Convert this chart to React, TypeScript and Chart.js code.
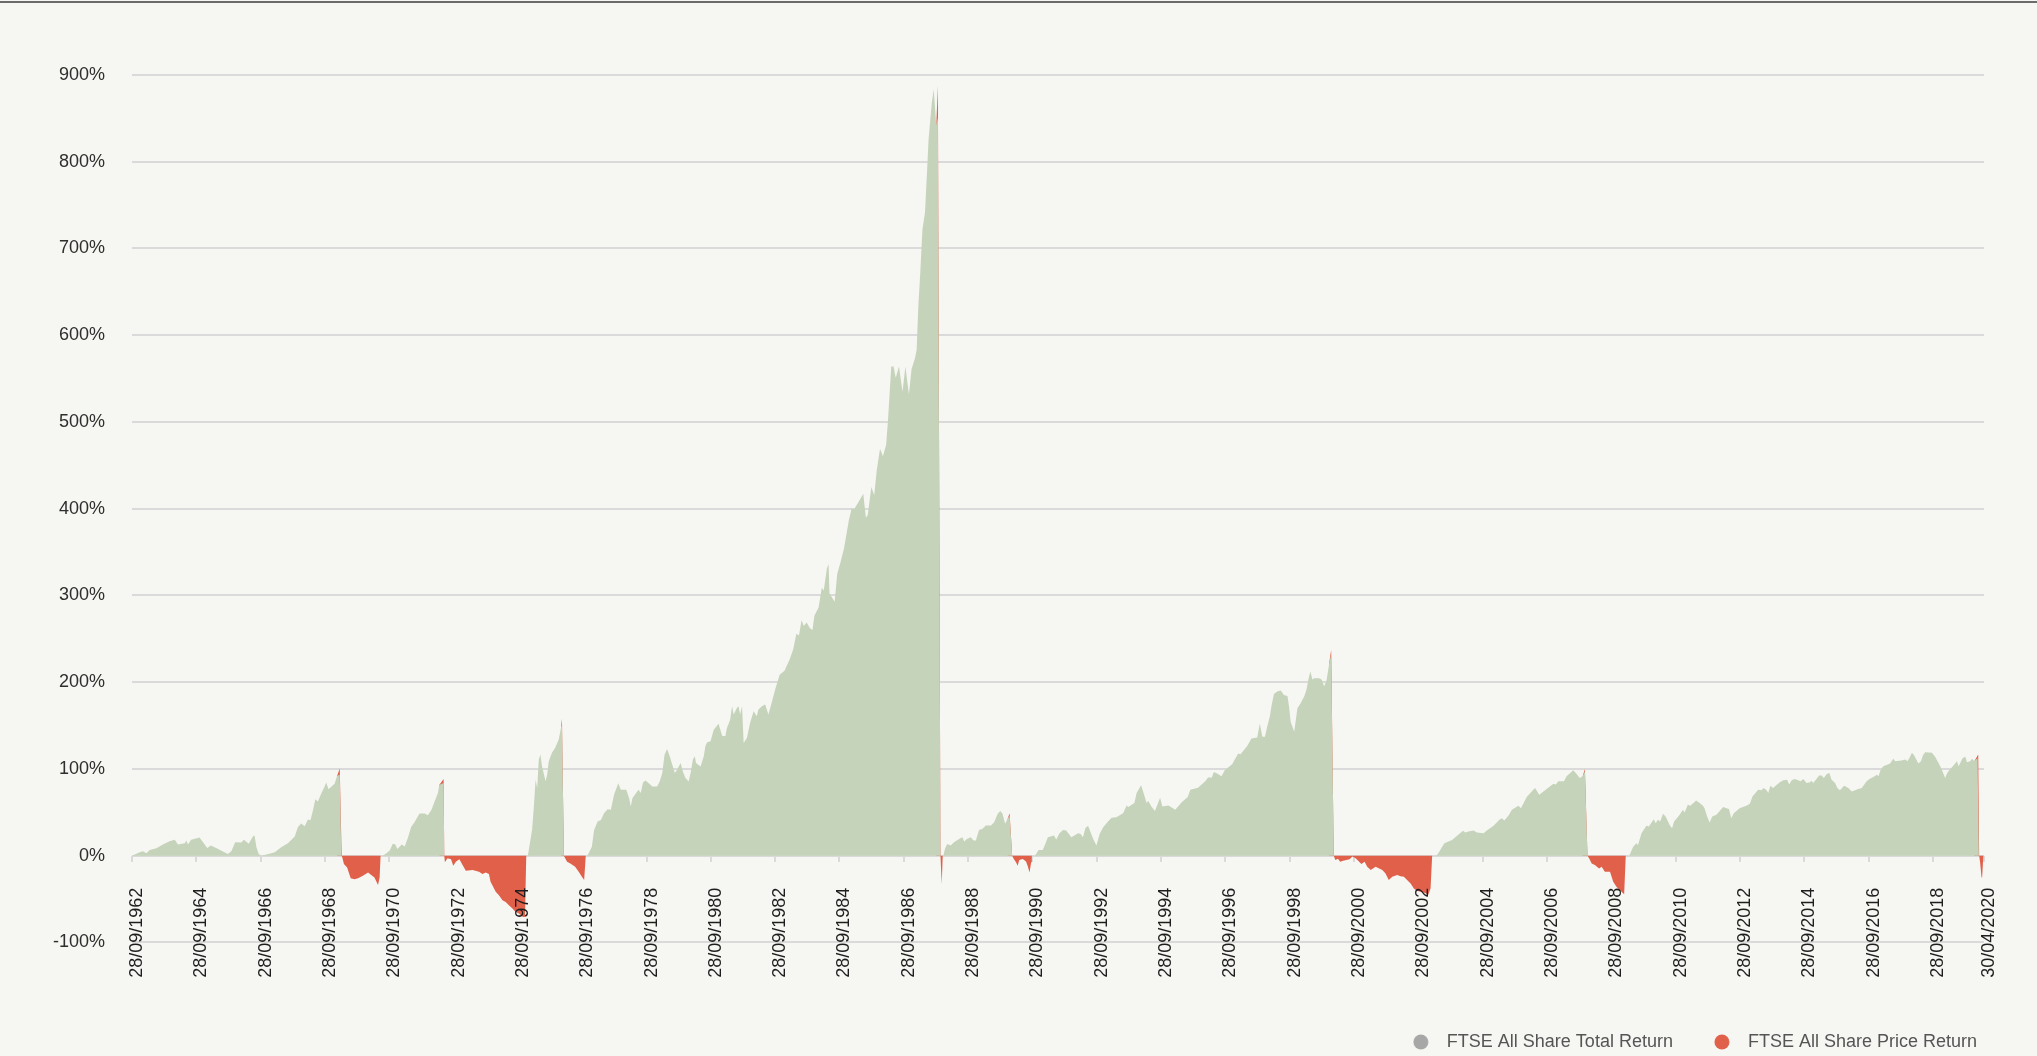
import React, { useEffect, useRef } from 'react';
import { Chart, registerables } from 'chart.js';

Chart.register(...registerables);

// ---- tick labels (x axis) ----
const tickYears = [
  1962.74, 1964.74, 1966.74, 1968.74, 1970.74, 1972.74, 1974.74, 1976.74, 1978.74, 1980.74,
  1982.74, 1984.74, 1986.74, 1988.74, 1990.74, 1992.74, 1994.74, 1996.74, 1998.74, 2000.74,
  2002.74, 2004.74, 2006.74, 2008.74, 2010.74, 2012.74, 2014.74, 2016.74, 2018.74, 2020.33,
];
const tickLabels = [
  '28/09/1962', '28/09/1964', '28/09/1966', '28/09/1968', '28/09/1970', '28/09/1972',
  '28/09/1974', '28/09/1976', '28/09/1978', '28/09/1980', '28/09/1982', '28/09/1984',
  '28/09/1986', '28/09/1988', '28/09/1990', '28/09/1992', '28/09/1994', '28/09/1996',
  '28/09/1998', '28/09/2000', '28/09/2002', '28/09/2004', '28/09/2006', '28/09/2008',
  '28/09/2010', '28/09/2012', '28/09/2014', '28/09/2016', '28/09/2018', '30/04/2020',
];

// ---- FTSE All Share Total Return: bull markets [year, % return] ----
const bull1962 = [
  [1962.74, 0], [1962.98, 3.9], [1963.08, 5.1], [1963.19, 2.7], [1963.29, 6.6], [1963.5, 8.6],
  [1963.7, 12.8], [1963.91, 16.7], [1964.07, 18.3], [1964.17, 12.8], [1964.38, 14.4], [1964.43, 17.5],
  [1964.48, 12.8], [1964.58, 18.3], [1964.84, 21.0], [1965.0, 12.8], [1965.08, 8.9], [1965.19, 11.7],
  [1965.39, 8.2], [1965.55, 5.1], [1965.72, 1.9], [1965.83, 5.1], [1965.95, 15.6], [1966.14, 15.2],
  [1966.22, 18.3], [1966.37, 13.6], [1966.5, 22.2], [1966.55, 23.3], [1966.61, 9.7], [1966.68, 1.9],
  [1966.76, 0], [1966.92, 1.2], [1967.07, 2.7], [1967.18, 3.9], [1967.38, 9.7], [1967.59, 14.4],
  [1967.8, 22.2], [1967.9, 33.1], [1968.0, 37.0], [1968.11, 33.9], [1968.21, 41.6], [1968.29, 40.9],
  [1968.37, 52.5], [1968.44, 65.0], [1968.52, 62.3], [1968.63, 72.0], [1968.73, 79.8], [1968.78, 84.4],
  [1968.85, 76.7], [1969.04, 82.9], [1969.12, 92.2], [1969.2, 93.4], [1969.25, 0],
];
const bull1970 = [
  [1970.54, 0], [1970.65, 2.7], [1970.75, 5.8], [1970.85, 13.6], [1970.93, 12.8], [1970.99, 7.8],
  [1971.13, 12.8], [1971.22, 10.5], [1971.32, 20.6], [1971.42, 33.1], [1971.53, 38.9], [1971.68, 48.6],
  [1971.84, 48.6], [1971.94, 46.7], [1972.05, 52.5], [1972.15, 62.3], [1972.25, 72.0], [1972.3, 81.7],
  [1972.43, 83.7], [1972.45, 0],
];
const bull1975 = [
  [1975.05, 0], [1975.18, 29.7], [1975.23, 52.9], [1975.29, 87.6], [1975.34, 78.0], [1975.39, 110.8],
  [1975.44, 116.6], [1975.49, 103.1], [1975.6, 85.7], [1975.65, 93.4], [1975.7, 108.9], [1975.8, 118.5],
  [1975.9, 124.3], [1976.01, 134.0], [1976.08, 147.5], [1976.11, 151.4], [1976.17, 0],
];
const bull1976 = [
  [1976.9, 0], [1977.04, 10.4], [1977.11, 29.7], [1977.22, 39.3], [1977.32, 41.2], [1977.42, 48.9],
  [1977.53, 53.6], [1977.63, 52.8], [1977.73, 70.1], [1977.86, 83.6], [1977.94, 75.9], [1978.11, 75.9],
  [1978.2, 66.3], [1978.25, 56.6], [1978.3, 66.3], [1978.49, 75.9], [1978.56, 72.1], [1978.63, 84.4],
  [1978.71, 86.7], [1978.92, 79.8], [1979.07, 79.8], [1979.15, 85.5], [1979.23, 95.2], [1979.3, 116.4],
  [1979.38, 122.9], [1979.46, 114.5], [1979.62, 95.2], [1979.69, 99.0], [1979.8, 106.7], [1979.87, 97.1],
  [1979.95, 89.4], [1980.05, 85.5], [1980.11, 95.2], [1980.18, 110.6], [1980.24, 114.5], [1980.28, 106.7],
  [1980.42, 102.9], [1980.52, 114.5], [1980.57, 126.0], [1980.62, 130.6], [1980.73, 131.8], [1980.83, 145.3],
  [1980.98, 152.2], [1981.09, 138.3], [1981.19, 137.6], [1981.24, 147.2], [1981.34, 156.8], [1981.4, 172.3],
  [1981.45, 162.6], [1981.55, 170.3], [1981.6, 172.3], [1981.65, 162.6], [1981.71, 172.3], [1981.76, 129.9],
  [1981.86, 135.6], [1981.96, 153.0], [1982.07, 166.5], [1982.17, 160.7], [1982.22, 168.4], [1982.33, 172.3],
  [1982.43, 174.2], [1982.53, 162.6], [1982.63, 176.1], [1982.74, 191.5], [1982.88, 208.7], [1983.03, 213.2],
  [1983.19, 226.1], [1983.3, 237.7], [1983.4, 255.8], [1983.48, 253.9], [1983.56, 271.3], [1983.63, 264.9],
  [1983.72, 268.7], [1983.82, 262.3], [1983.9, 260.3], [1983.96, 276.5], [1984.09, 286.2], [1984.19, 308.8],
  [1984.25, 305.6], [1984.35, 331.4], [1984.4, 335.9], [1984.43, 302.3], [1984.59, 292.6], [1984.67, 324.9],
  [1984.77, 337.9], [1984.88, 354.0], [1985.03, 386.3], [1985.12, 400.5], [1985.19, 399.2], [1985.35, 408.9],
  [1985.48, 417.3], [1985.56, 389.5], [1985.62, 392.8], [1985.73, 425.1], [1985.82, 415.4], [1985.9, 444.4],
  [1986.0, 469.0], [1986.09, 460.6], [1986.19, 473.5], [1986.25, 502.6], [1986.35, 564.0], [1986.42, 564.0],
  [1986.49, 551.0], [1986.59, 564.0], [1986.7, 534.9], [1986.79, 564.0], [1986.9, 531.7], [1986.98, 560.7],
  [1987.09, 573.6], [1987.14, 583.3], [1987.19, 631.8], [1987.25, 670.5], [1987.32, 722.2], [1987.4, 741.6],
  [1987.46, 786.8], [1987.51, 825.6], [1987.61, 867.6], [1987.67, 883.7], [1987.75, 841.7], [1987.8, 851.0],
  [1987.88, 0],
];
const bull1988 = [
  [1987.97, 0], [1988.02, 8.0], [1988.09, 13.5], [1988.2, 11.6], [1988.3, 15.4], [1988.46, 19.3],
  [1988.56, 21.2], [1988.62, 16.2], [1988.7, 19.3], [1988.82, 21.2], [1988.91, 17.4], [1988.98, 17.4],
  [1989.08, 29.7], [1989.19, 30.9], [1989.29, 34.7], [1989.45, 34.7], [1989.55, 38.6], [1989.66, 48.3],
  [1989.74, 51.4], [1989.81, 48.3], [1989.89, 36.7], [1989.97, 42.5], [1990.03, 46.0], [1990.11, 0],
];
const bull1990 = [
  [1990.82, 0], [1990.93, 6.6], [1991.06, 6.6], [1991.14, 13.5], [1991.22, 21.2], [1991.41, 23.2],
  [1991.48, 18.5], [1991.58, 25.9], [1991.69, 29.7], [1991.79, 29.0], [1991.95, 21.2], [1992.16, 25.9],
  [1992.24, 25.1], [1992.31, 21.2], [1992.39, 32.0], [1992.47, 34.4], [1992.63, 19.3], [1992.73, 11.6],
  [1992.83, 25.1], [1992.94, 32.8], [1993.07, 38.6], [1993.2, 43.6], [1993.35, 44.4], [1993.56, 49.0],
  [1993.67, 57.9], [1993.72, 56.0], [1993.91, 60.6], [1993.98, 72.2], [1994.12, 81.1], [1994.22, 69.5],
  [1994.29, 60.6], [1994.34, 62.9], [1994.45, 56.0], [1994.55, 51.4], [1994.71, 66.8], [1994.78, 56.8],
  [1994.97, 57.9], [1995.18, 52.9], [1995.39, 61.8], [1995.57, 67.6], [1995.65, 76.1], [1995.89, 78.4],
  [1996.12, 86.1], [1996.2, 90.0], [1996.32, 90.0], [1996.38, 96.5], [1996.48, 94.6], [1996.62, 91.5],
  [1996.72, 98.5], [1996.95, 105.4], [1997.05, 112.0], [1997.14, 117.8], [1997.21, 117.0], [1997.42, 126.3],
  [1997.55, 135.1], [1997.73, 136.3], [1997.81, 152.5], [1997.89, 137.1], [1997.97, 137.1], [1998.04, 148.6],
  [1998.12, 160.2], [1998.18, 173.7], [1998.25, 186.5], [1998.35, 189.2], [1998.46, 190.3], [1998.56, 185.3],
  [1998.67, 184.2], [1998.72, 171.8], [1998.77, 154.4], [1998.88, 142.9], [1998.93, 156.4], [1998.98, 169.9],
  [1999.08, 175.7], [1999.19, 183.4], [1999.26, 191.1], [1999.32, 202.7], [1999.38, 212.4], [1999.45, 202.7],
  [1999.5, 204.6], [1999.66, 204.6], [1999.74, 202.7], [1999.81, 195.0], [1999.89, 202.7], [1999.97, 222.0],
  [2000.03, 231.7], [2000.11, 0],
];
const bull2003 = [
  [2003.3, 0], [2003.4, 5.0], [2003.48, 10.4], [2003.55, 14.3], [2003.79, 18.1], [2004.01, 25.1],
  [2004.13, 28.6], [2004.2, 26.6], [2004.3, 27.8], [2004.46, 29.0], [2004.56, 26.6], [2004.77, 25.9],
  [2004.87, 29.0], [2005.08, 34.4], [2005.26, 41.3], [2005.34, 43.2], [2005.41, 40.5], [2005.54, 45.9],
  [2005.65, 52.9], [2005.85, 57.5], [2005.93, 54.8], [2006.11, 67.6], [2006.3, 75.3], [2006.37, 78.0],
  [2006.5, 70.3], [2006.73, 76.8], [2006.94, 83.0], [2007.02, 81.9], [2007.09, 85.7], [2007.27, 85.7],
  [2007.35, 91.5], [2007.56, 98.5], [2007.68, 93.4], [2007.76, 89.6], [2007.85, 91.5], [2007.92, 97.3],
  [2008.0, 0],
];
const bull2009 = [
  [2009.3, 0], [2009.42, 10.4], [2009.52, 14.3], [2009.57, 12.4], [2009.68, 25.9], [2009.83, 34.4],
  [2009.91, 33.6], [2010.06, 42.1], [2010.12, 37.5], [2010.19, 41.3], [2010.26, 39.4], [2010.35, 48.3],
  [2010.43, 45.2], [2010.55, 35.5], [2010.63, 31.7], [2010.69, 39.0], [2010.86, 47.0], [2010.97, 52.9],
  [2011.02, 49.8], [2011.12, 58.7], [2011.2, 57.5], [2011.38, 63.7], [2011.49, 60.6], [2011.59, 57.5],
  [2011.64, 54.8], [2011.72, 45.2], [2011.8, 38.2], [2011.88, 45.2], [2012.01, 47.1], [2012.22, 56.0],
  [2012.32, 54.8], [2012.4, 53.7], [2012.47, 43.2], [2012.55, 49.0], [2012.73, 54.8], [2012.94, 57.5],
  [2013.05, 59.8], [2013.13, 68.3], [2013.31, 76.1], [2013.41, 75.3], [2013.48, 78.0], [2013.57, 75.3],
  [2013.62, 72.2], [2013.69, 80.7], [2013.77, 78.0], [2013.98, 84.6], [2014.09, 86.9], [2014.21, 87.6],
  [2014.27, 81.9], [2014.35, 86.9], [2014.45, 88.4], [2014.63, 85.7], [2014.71, 88.4], [2014.81, 83.8],
  [2014.92, 84.6], [2014.97, 86.5], [2015.02, 83.8], [2015.12, 88.4], [2015.2, 92.3], [2015.28, 92.3],
  [2015.35, 89.6], [2015.44, 94.2], [2015.52, 95.4], [2015.59, 87.6], [2015.7, 83.8], [2015.77, 78.0],
  [2015.85, 75.3], [2015.98, 80.7], [2016.11, 78.0], [2016.22, 74.1], [2016.42, 76.8], [2016.53, 78.0],
  [2016.68, 85.7], [2016.77, 88.4], [2016.89, 90.7], [2017.0, 93.4], [2017.05, 91.5], [2017.12, 99.2],
  [2017.2, 103.1], [2017.41, 106.2], [2017.51, 111.6], [2017.57, 108.9], [2017.77, 109.7], [2017.88, 110.8],
  [2017.95, 108.9], [2018.01, 112.7], [2018.09, 118.5], [2018.16, 115.4], [2018.29, 106.2], [2018.37, 108.9],
  [2018.43, 115.4], [2018.5, 119.3], [2018.71, 118.5], [2018.81, 113.9], [2018.97, 103.1], [2019.05, 96.1],
  [2019.12, 89.6], [2019.2, 96.1], [2019.36, 103.1], [2019.49, 108.9], [2019.54, 103.1], [2019.67, 112.7],
  [2019.75, 113.9], [2019.8, 107.7], [2019.9, 108.9], [2019.96, 111.6], [2020.03, 108.9], [2020.13, 112.7],
  [2020.17, 0], [2020.33, 0],
];

// ---- FTSE All Share Price Return: peak tips and bear markets [year, % return] ----
const bear1969 = [
  [1962.74, 0], [1969.12, 0], [1969.12, 92.2], [1969.2, 100.4], [1969.26, 0], [1969.28, -2.0],
  [1969.33, -9.7], [1969.43, -13.6], [1969.54, -26.0], [1969.66, -27.2], [1969.77, -26.0], [1969.92, -23.3],
  [1970.08, -19.5], [1970.18, -22.2], [1970.28, -25.3], [1970.39, -33.9], [1970.44, -25.3], [1970.47, 0],
];
const bear1972 = [
  [1972.3, 0], [1972.3, 81.7], [1972.43, 88.3], [1972.45, 0], [1972.47, -7.7], [1972.55, -3.1],
  [1972.66, -4.2], [1972.73, -11.6], [1972.81, -6.9], [1972.92, -4.2], [1973.02, -10.8], [1973.12, -17.4],
  [1973.33, -16.6], [1973.53, -18.5], [1973.64, -21.2], [1973.74, -19.3], [1973.84, -21.2], [1973.89, -30.1],
  [1974.05, -41.7], [1974.15, -45.6], [1974.26, -51.4], [1974.36, -53.3], [1974.46, -57.1], [1974.57, -61.0],
  [1974.67, -64.9], [1974.77, -66.8], [1974.9, -70.7], [1974.96, -70.7], [1975.0, 0],
];
const bear1976 = [
  [1976.08, 0], [1976.08, 147.5], [1976.11, 157.9], [1976.17, 0], [1976.21, -3.0], [1976.27, -7.0],
  [1976.37, -8.9], [1976.52, -12.7], [1976.63, -18.5], [1976.73, -24.3], [1976.8, -28.2], [1976.85, 0],
];
const bear1987 = [
  [1987.75, 0], [1987.75, 841.7], [1987.8, 888.0], [1987.88, 0], [1987.92, -33.0], [1987.95, 0],
];
const bear1990 = [
  [1989.97, 0], [1989.97, 42.5], [1990.03, 49.0], [1990.11, 0], [1990.16, -3.9], [1990.23, -7.7],
  [1990.28, -11.6], [1990.33, -5.0], [1990.44, -3.9], [1990.54, -6.6], [1990.59, -11.6], [1990.65, -19.3],
  [1990.7, -7.7], [1990.72, 0],
];
const bear2000 = [
  [1999.97, 0], [1999.97, 222.0], [2000.03, 237.5], [2000.11, 0], [2000.16, -5.0], [2000.24, -3.5],
  [2000.31, -7.0], [2000.4, -6.0], [2000.5, -5.0], [2000.6, -4.0], [2000.69, -1.0], [2000.79, -3.1],
  [2000.97, -9.7], [2001.07, -6.9], [2001.15, -12.7], [2001.26, -16.6], [2001.41, -12.7], [2001.62, -16.6],
  [2001.72, -20.5], [2001.82, -28.2], [2001.93, -24.3], [2002.08, -22.4], [2002.19, -23.6], [2002.29, -24.3],
  [2002.39, -28.2], [2002.5, -32.0], [2002.6, -37.8], [2002.7, -40.5], [2002.81, -41.7], [2002.95, -43.0],
  [2003.05, -45.0], [2003.12, -38.0], [2003.17, 0],
];
const bear2007 = [
  [2007.85, 0], [2007.85, 91.5], [2007.92, 100.0], [2008.0, 0], [2008.05, -3.1], [2008.13, -8.9],
  [2008.23, -10.8], [2008.36, -14.7], [2008.44, -12.7], [2008.54, -18.5], [2008.7, -18.5], [2008.75, -24.3],
  [2008.8, -30.1], [2008.9, -35.9], [2009.01, -39.8], [2009.14, -44.4], [2009.19, 0],
];
const bear2020 = [
  [2020.03, 0], [2020.03, 108.9], [2020.15, 116.6], [2020.18, 0], [2020.21, -8.0], [2020.25, -24.0],
  [2020.27, -26.0], [2020.31, 0], [2020.33, 0],
];

const BG = '#f6f6f2';
const GREEN = '#c5d3ba';
const RED = '#e0604a';
const GRAY_DOT = '#a7a7a7';
const GRID = '#dadada';
const FONT = '"Liberation Sans", Arial, Helvetica, sans-serif';

export default function App() {
  const ref = useRef<HTMLCanvasElement>(null);

  useEffect(() => {
    document.body.style.margin = '0';
    document.body.style.background = BG;
    const canvas = ref.current;
    if (!canvas) return;

    const toPts = (segs: number[][][]) =>
      segs.flat().map(([x, y]) => ({ x, y }));
    const totalReturn = toPts([bull1962, bull1970, bull1975, bull1976, bull1988, bull1990, bull2003, bull2009]);
    const priceReturn = toPts([bear1969, bear1972, bear1976, bear1987, bear1990, bear2000, bear2007, bear2020]);

    const makeDot = (color: string) => {
      const c = document.createElement('canvas');
      c.width = 32;
      c.height = 16;
      const g = c.getContext('2d')!;
      g.fillStyle = color;
      g.beginPath();
      g.arc(8, 8, 7.5, 0, Math.PI * 2);
      g.fill();
      return c;
    };
    const dots = [makeDot(GRAY_DOT), makeDot(RED)];

    const chart = new Chart(canvas, {
      type: 'line',
      data: {
        datasets: [
          {
            label: 'FTSE All Share Total Return',
            data: totalReturn,
            fill: 'origin',
            backgroundColor: GREEN,
            borderColor: 'rgba(0,0,0,0)',
            borderWidth: 0,
            pointRadius: 0,
            tension: 0,
          },
          {
            label: 'FTSE All Share Price Return',
            data: priceReturn,
            fill: 'origin',
            backgroundColor: RED,
            borderColor: 'rgba(0,0,0,0)',
            borderWidth: 0,
            pointRadius: 0,
            tension: 0,
          },
        ],
      },
      options: {
        animation: false,
        responsive: false,
        maintainAspectRatio: false,
        events: [],
        layout: { padding: { left: 0, right: 12, top: 75, bottom: -5 } },
        plugins: {
          tooltip: { enabled: false },
          legend: {
            position: 'bottom',
            align: 'end',
            title: { display: true, text: '', padding: { top: 21, bottom: 0 }, font: { size: 18 } },
            labels: {
              usePointStyle: true,
              boxWidth: 18,
              boxHeight: 18,
              padding: 48,
              color: '#555555',
              font: { size: 18, family: FONT },
              generateLabels: (ch: any) =>
                ch.data.datasets.map((ds: any, i: number) => ({
                  text: ds.label,
                  fillStyle: i === 0 ? GRAY_DOT : RED,
                  strokeStyle: 'rgba(0,0,0,0)',
                  lineWidth: 0,
                  pointStyle: dots[i],
                  hidden: false,
                  datasetIndex: i,
                  fontColor: '#555555',
                })),
            },
          },
        },
        scales: {
          x: {
            type: 'linear',
            min: 1962.74,
            max: 2020.33,
            position: { y: 0 } as any,
            afterBuildTicks: (s: any) => {
              s.ticks = tickYears.map((v) => ({ value: v }));
            },
            ticks: {
              z: 1,
              autoSkip: false,
              minRotation: 90,
              maxRotation: 90,
              padding: 26,
              labelOffset: 5,
              color: '#1e1e1e',
              font: { size: 18, family: FONT },
              callback: (_v: any, i: number) => tickLabels[i],
            },
            grid: {
              drawOnChartArea: false,
              drawTicks: true,
              tickLength: 6,
              tickWidth: 2,
              tickColor: GRID,
              color: GRID,
              lineWidth: 2,
            },
            border: { display: false },
          },
          y: {
            min: -100,
            max: 900,
            afterFit: (s: any) => {
              s.width = 132;
            },
            ticks: {
              stepSize: 100,
              padding: 27,
              color: '#2e2e2e',
              font: { size: 18, family: FONT },
              callback: (v: any) => v + '%',
            },
            grid: { color: GRID, lineWidth: 2, drawTicks: false },
            border: { display: false },
          },
          y2: {
            position: 'right',
            display: true,
            afterFit: (s: any) => {
              s.width = 41;
            },
            ticks: { display: false },
            grid: { display: false, drawTicks: false },
            border: { display: false },
          },
        },
      },
    });
    return () => chart.destroy();
  }, []);

  return (
    <div style={{ position: 'relative', width: 2037, height: 1056, background: BG, overflow: 'hidden' }}>
      <canvas ref={ref} width={2037} height={1056} style={{ position: 'absolute', left: 0, top: 0 }} />
      <div style={{ position: 'absolute', left: 0, top: 1, width: '100%', height: 2, background: '#6b6b6b' }} />
    </div>
  );
}
